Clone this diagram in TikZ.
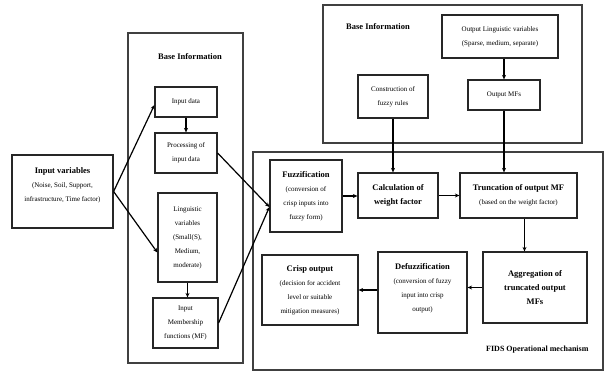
\documentclass[tikz,border=0pt]{standalone}
\usepackage{fontspec}
\setmainfont{Liberation Serif}
\usetikzlibrary{arrows.meta,calc}
\newcommand\bhead[1]{{\fontsize{8.5}{14}\selectfont\bfseries #1}}
\tikzset{
  box/.style={draw=black!85, line width=1.2pt, fill=white, align=center, inner sep=1pt,
    font=\fontsize{7}{14}\selectfont},
  panel/.style={draw=black!75, line width=1.7pt, fill=none, inner sep=0pt},
  ptitle/.style={font=\fontsize{8.5}{14}\selectfont\bfseries},
  conn/.style={draw=black, line width=1.2pt},
  arr/.style={conn, -{Stealth[length=4.5pt,width=4pt]}}
}
\begin{document}
\begin{tikzpicture}[x=1pt,y=-1pt]
\fill[white] (0,0) rectangle (606,375);
\useasboundingbox (0,0) rectangle (606,375);

% panels
\node[panel, minimum width=115pt, minimum height=330pt] (lp) at (185.5,198) {};
\node[panel, minimum width=259pt, minimum height=138pt] (tp) at (452.5,74) {};
\node[panel, minimum width=350pt, minimum height=218pt] (mp) at (428,261) {};

\node[ptitle] (lpt) at (190,57) {Base Information};
\node[ptitle] (tpt) at (378,27) {Base Information};
\node[font=\fontsize{8}{14}\selectfont\bfseries, anchor=east] (mpt) at (592,350) {FIDS Operational mechanism};

% input
\node[box, minimum width=101pt, minimum height=73pt] (inp) at (62.5,191.5)
  {\bhead{Input variables}\\(Noise, Soil, Support,\\infrastructure, Time factor)\\~};

% left panel boxes
\node[box, minimum width=62pt, minimum height=30pt] (indata) at (186,102) {Input data};
\node[box, minimum width=62pt, minimum height=40pt] (proc) at (186,153) {Processing of\\input data};
\node[box, minimum width=59pt, minimum height=89pt] (ling) at (187.5,237.5)
  {Linguistic\\variables\\(Small(S),\\Medium,\\moderate)};
\node[box, minimum width=65pt, minimum height=50pt] (imf) at (185.5,323)
  {Input\\Membership\\functions (MF)};

% top right boxes
\node[box, minimum width=116pt, minimum height=43pt] (olv) at (500,36.5)
  {Output Linguistic variables\\(Sparse, medium, separate)};
\node[box, minimum width=70pt, minimum height=43pt] (cfr) at (393,96.5)
  {Construction of\\fuzzy rules};
\node[box, minimum width=72pt, minimum height=30pt] (omf) at (504,95) {Output MFs};

% main panel boxes
\node[box, minimum width=72pt, minimum height=72pt] (fuzz) at (306,196)
  {\bhead{Fuzzification}\\(conversion of\\crisp inputs into\\fuzzy form)};
\node[box, minimum width=80pt, minimum height=45pt] (calc) at (398,195.5)
  {\bhead{Calculation of}\\\bhead{weight factor}};
\node[box, minimum width=117pt, minimum height=45pt] (trunc) at (518.5,195.5)
  {\bhead{Truncation of output MF}\\(based on the weight factor)};
\node[box, minimum width=104pt, minimum height=71pt] (aggr) at (535,287.5)
  {\bhead{Aggregation of}\\\bhead{truncated output}\\\bhead{MFs}};
\node[box, minimum width=89pt, minimum height=81pt] (defz) at (422.5,292.5)
  {\bhead{Defuzzification}\\(conversion of fuzzy\\input into crisp\\output)\\[-4pt]~};
\node[box, minimum width=96pt, minimum height=70pt] (crisp) at (310,290)
  {\bhead{Crisp output}\\(decision for accident\\level or suitable\\mitigation measures)};

% connectors
\draw[arr] (inp.east) -- ([yshift=-3pt]indata.west);
\draw[arr] (inp.east) -- ([yshift=-15pt]ling.west);
\draw[arr] (indata.south) -- (proc.north);
\draw[arr] (ling.south) -- (ling.south |- imf.north);
\coordinate (fin) at ([yshift=-11pt]fuzz.west);
\draw[arr] (proc.east) -- (fin);
\draw[arr] (imf.east) -- (fin);

\draw[arr] (olv.south -| omf.north) -- (omf.north);
\draw[arr] (cfr.south) -- (cfr.south |- calc.north);
\draw[arr] (omf.south) -- (omf.south |- trunc.north);

\draw[arr] (fuzz.east) -- (fuzz.east -| calc.west);
\draw[arr] (calc.east) -- (trunc.west);
\draw[arr] ([xshift=6pt]trunc.south) -- ([xshift=6pt]trunc.south |- aggr.north);
\draw[arr] (aggr.west) -- (aggr.west -| defz.east);
\draw[arr] (crisp.east -| defz.west) -- (crisp.east);
\end{tikzpicture}
\end{document}
